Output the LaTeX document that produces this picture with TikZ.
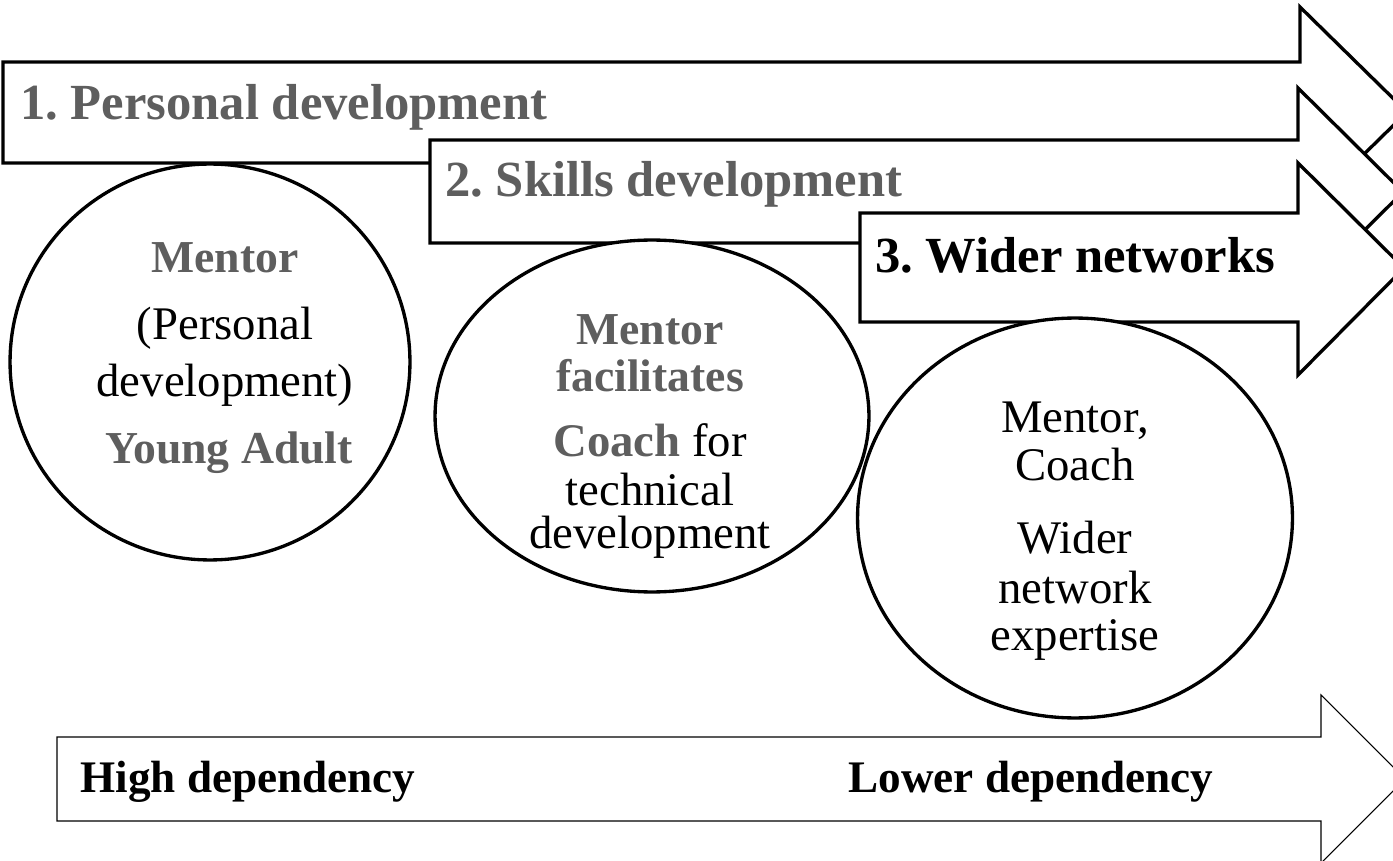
\documentclass[tikz,border=0pt]{standalone}
\usepackage{fontspec}
\setmainfont{Liberation Serif}
\usepackage{tikz}
\usetikzlibrary{positioning, shapes.geometric}
\definecolor{stagegray}{HTML}{5E5E5E}
\frenchspacing
\tikzset{
    x=0.02cm, y=-0.02cm, % one unit is one pixel of the reference
    stagearrow/.style={draw=black, line width=1.9pt, fill=white, line join=miter},
    dependarrow/.style={draw=black, line width=0.6pt, fill=white},
    bubble/.style={draw=black, line width=1.9pt, fill=white, ellipse, inner sep=0pt},
    heading/.style={inner sep=0pt, anchor=base west, font=\fontsize{28.8}{31}\selectfont\bfseries},
    line/.style={inner sep=0pt, anchor=base, font=\fontsize{26.6}{29}\selectfont},
    greybold/.style={text=stagegray, font=\fontsize{26}{29}\selectfont\bfseries},
}

\begin{document}
\begin{tikzpicture}
    \useasboundingbox (0,0) rectangle (1393,861);
    \clip (0,0) rectangle (1393,861);

    % stage arrows
    \draw[stagearrow] (3,62) -- (1300,62) -- (1300,7) -- (1407,112)
        -- (1300,217) -- (1300,163) -- (3,163) -- cycle;
    \node[heading, text=stagegray] (personal) at (20,120) {1. Personal development};

    \draw[stagearrow] (430,140) -- (1298,140) -- (1298,88) -- (1403,192)
        -- (1298,296) -- (1298,243) -- (430,243) -- cycle;
    \node[heading, text=stagegray] (skills) at (445,197) {2. Skills development};

    \draw[stagearrow] (860,213) -- (1298,213) -- (1298,163) -- (1404,268)
        -- (1298,375) -- (1298,322) -- (860,322) -- cycle;
    \node[heading] (networks) at (875,273) {3. Wider networks};

    % who is involved at each stage
    \node[bubble, minimum width=8cm, minimum height=7.92cm] (first) at (210,362) {};
    \node[line, greybold] (m1) at (225,273) {Mentor};
    \node[line] (pd1) at (225,340) {(Personal};
    \node[line] (pd2) at (225,397) {development)};
    \node[line, greybold] (ya) at (229,463) {Young Adult};

    \node[bubble, minimum width=8.68cm, minimum height=7.04cm] (second) at (652,416) {};
    \node[line, greybold] (m2) at (650,345) {Mentor};
    \node[line, greybold] (fac) at (650,392) {facilitates};
    \node[line] (coach2) at (650,457) {\textcolor{stagegray}{\bfseries Coach} for};
    \node[line] (tech) at (650,505) {technical};
    \node[line] (dev2) at (650,548) {development};

    \node[bubble, minimum width=8.7cm, minimum height=8cm] (third) at (1075,518) {};
    \node[line] (m3) at (1075,433) {Mentor,};
    \node[line] (coach3) at (1075,480) {Coach};
    \node[line] (wider) at (1075,553) {Wider};
    \node[line] (net) at (1075,603) {network};
    \node[line] (exp) at (1075,650) {expertise};

    % dependency scale
    \draw[dependarrow] (57,737) -- (1321,737) -- (1321,695) -- (1405,779)
        -- (1321,863) -- (1321,821) -- (57,821) -- cycle;
    \node[line, anchor=base west, font=\fontsize{25.7}{28}\selectfont\bfseries] (high) at (80,792) {High dependency};
    \node[line, anchor=base west, font=\fontsize{25.7}{28}\selectfont\bfseries] (low) at (848,792) {Lower dependency};
\end{tikzpicture}
\end{document}
